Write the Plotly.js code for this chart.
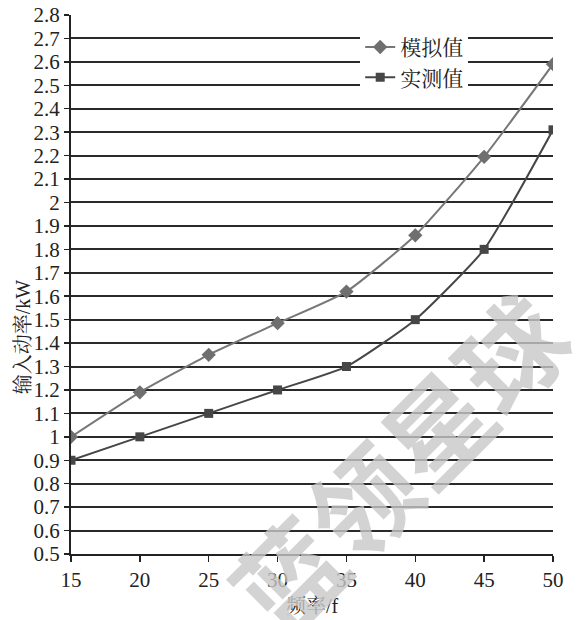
<!DOCTYPE html>
<html>
<head>
<meta charset="utf-8">
<script src="https://cdn.plot.ly/plotly-3.0.1.min.js"></script>
<style>
  html, body { margin: 0; padding: 0; background: #fff; }
  #chart { width: 578px; height: 620px; }
</style>
</head>
<body>
<div id="chart"></div>
<script>
// Frequency (x) and input power in kW for the simulated and measured runs
const frequency = [15, 20, 25, 30, 35, 40, 45, 50];
const simulated = [1.0, 1.19, 1.35, 1.485, 1.62, 1.86, 2.195, 2.59];
const measured  = [0.9, 1.0, 1.1, 1.2, 1.3, 1.5, 1.8, 2.31];
const seriesNames = ['模拟值', '实测值'];
const xTitle = '频率/f';
const yTitle = '输入动率/kW';
const watermark = '蓝领星球';

const serif = 'Liberation Serif, Noto Serif CJK SC, serif';
const ink = '#222222';

const traces = [
  {
    x: frequency, y: simulated, name: seriesNames[0],
    type: 'scatter', mode: 'lines+markers',
    line: { color: '#777777', width: 2, shape: 'spline', smoothing: 0.5 },
    marker: { symbol: 'diamond', size: 11, color: '#6f6f6f' }
  },
  {
    x: frequency, y: measured, name: seriesNames[1],
    type: 'scatter', mode: 'lines+markers',
    line: { color: '#464646', width: 2, shape: 'spline', smoothing: 0.5 },
    marker: { symbol: 'square', size: 9, color: '#464646' }
  }
];

const layout = {
  width: 578, height: 620,
  margin: { l: 71, r: 25, t: 15, b: 66 },
  paper_bgcolor: '#ffffff', plot_bgcolor: '#ffffff',
  font: { family: serif, size: 20, color: ink },
  showlegend: true,
  legend: {
    x: 0.6, y: 0.978, xanchor: 'left', yanchor: 'top',
    bgcolor: '#ffffff', borderwidth: 0,
    font: { family: serif, size: 21, color: ink },
    tracegroupgap: 0, itemwidth: 30
  },
  xaxis: {
    range: [15, 50], tickmode: 'array', tickvals: frequency,
    showgrid: false, zeroline: false,
    showline: true, linecolor: ink, linewidth: 2,
    ticks: 'outside', ticklen: 6, tickcolor: ink, tickwidth: 1.5,
    tickfont: { family: serif, size: 21, color: ink },
    title: { text: xTitle, font: { family: serif, size: 20, color: ink }, standoff: 8 }
  },
  yaxis: {
    range: [0.5, 2.8], dtick: 0.1, tick0: 0.5,
    showgrid: true, gridcolor: '#2a2a2a', gridwidth: 2,
    zeroline: false,
    showline: true, linecolor: ink, linewidth: 2,
    ticks: 'outside', ticklen: 5, tickcolor: ink, tickwidth: 1.5,
    tickfont: { family: serif, size: 21, color: ink }
  },
  annotations: [
    {
      text: yTitle, textangle: -90, showarrow: false,
      xref: 'paper', yref: 'paper', x: -0.1, y: 0.5, xanchor: 'center', yanchor: 'middle',
      yshift: -52,
      font: { family: serif, size: 20, color: ink }
    },
    {
      text: '<b>' + watermark + '</b>', textangle: -45, showarrow: false,
      xref: 'paper', yref: 'paper', x: 0.676, y: 0.171, xanchor: 'center', yanchor: 'middle',
      font: { family: 'Noto Sans CJK SC, sans-serif', size: 105, color: 'rgba(200,200,200,0.8)' }
    }
  ]
};

Plotly.newPlot('chart', traces, layout, { displayModeBar: false, staticPlot: true });
</script>
</body>
</html>
